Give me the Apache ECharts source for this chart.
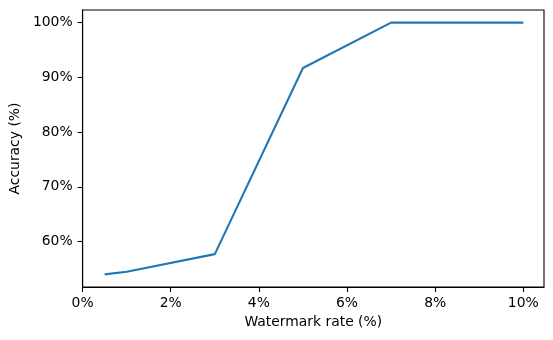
<!DOCTYPE html>
<html>
<head>
<meta charset="utf-8">
<script src="https://cdn.jsdelivr.net/npm/echarts@6/dist/echarts.min.js"></script>
<style>
  html, body { margin: 0; padding: 0; background: #fff; }
  #chart { width: 553px; height: 340px; }
</style>
</head>
<body>
<div id="chart"></div>
<script>
// 水印比例 (%) 与准确率 (%)
var rates = [0.5, 1, 3, 5, 7, 10]
var accuracy = [54.0, 54.5, 57.7, 91.7, 100, 100]

// 刻度
var xTicks = [0, 2, 4, 6, 8, 10]
var yTicks = [60, 70, 80, 90, 100]

var chart = echarts.init(document.getElementById('chart'))

var font = 'DejaVu Sans'
var points = []
for (var i = 0; i < rates.length; i++) {
    points.push([rates[i], accuracy[i]])
}

var option = {
    animation: false,
    grid: {
        left: 79, right: 9, top: 10, bottom: 53,
        show: true,
        borderColor: '#000',
        borderWidth: 1.1
    },
    xAxis: {
        type: 'value',
        min: 0,
        max: 10.47,
        name: 'Watermark rate (%)',
        nameLocation: 'middle',
        nameGap: 26,
        nameTextStyle: { fontFamily: font, fontSize: 13.9, color: '#000', verticalAlign: 'top' },
        axisLine: { show: true, lineStyle: { color: '#000', width: 1.1 } },
        axisTick: { show: true, length: 5, lineStyle: { color: '#000', width: 1.1 }, customValues: xTicks },
        axisLabel: {
            margin: 9, fontFamily: font, fontSize: 13.9, color: '#000',
            customValues: xTicks,
            formatter: function (v) { return v + '%' }
        },
        splitLine: { show: false }
    },
    yAxis: {
        type: 'value',
        min: 51.7,
        max: 102.3,
        name: 'Accuracy (%)',
        nameLocation: 'middle',
        nameGap: 51,
        nameTextStyle: { fontFamily: font, fontSize: 13.9, color: '#000' },
        axisLine: { show: true, lineStyle: { color: '#000', width: 1.1 } },
        axisTick: { show: true, length: 5, lineStyle: { color: '#000', width: 1.1 }, customValues: yTicks },
        axisLabel: {
            margin: 10, fontFamily: font, fontSize: 13.9, color: '#000',
            customValues: yTicks,
            formatter: function (v) { return v + '%' }
        },
        splitLine: { show: false }
    },
    series: [{
        type: 'line',
        data: points,
        showSymbol: false,
        lineStyle: { color: '#1f77b4', width: 2.1 },
        itemStyle: { color: '#1f77b4' }
    }]
}

chart.setOption(option)
</script>
</body>
</html>
